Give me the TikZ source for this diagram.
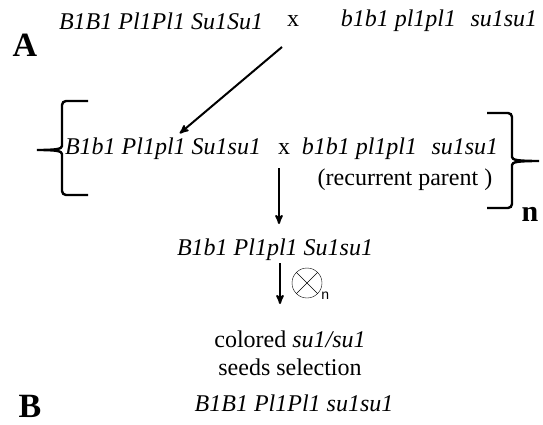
\documentclass[tikz,border=0pt]{standalone}
\usepackage{fontspec}
\setmainfont{Liberation Serif}
\setsansfont{Liberation Sans}
\usetikzlibrary{arrows,positioning}

\begin{document}
\begin{tikzpicture}[x=1pt,y=-1pt,->,>=stealth',thick,
  geno/.style={font=\fontsize{24}{28}\selectfont\itshape,inner sep=0pt},
  plain/.style={font=\fontsize{24}{28}\selectfont,inner sep=0pt},
  panel/.style={font=\fontsize{34}{40}\selectfont\bfseries,inner sep=0pt},
  bracket/.style={-,line width=2.4pt},
  link/.style={line width=2pt,shorten >=1pt}]

  \useasboundingbox (0,0) rectangle (543,425);

  % panel A: first cross
  \node[panel] (A) at (25,45) {A};
  \node[geno] (p1) at (161,21) {B1B1 Pl1Pl1 Su1Su1};
  \node[plain] (x1) at (293,21) {x};
  \node[geno] (p2) at (439,21) {b1b1 pl1pl1\hspace{0.6em}su1su1};

  % backcross line, repeated n times
  \node[geno] (bc1) at (163,149) {B1b1 Pl1pl1 Su1su1};
  \node[plain] (x2) at (284,149) {x};
  \node[geno] (rp) at (400,149) {b1b1 pl1pl1\hspace{0.6em}su1su1};
  \node[plain] (rptext) at (405,180) {(recurrent parent )};
  \node[panel,font=\fontsize{30}{36}\selectfont\bfseries] (n) at (530,214) {n};

  \node[geno] (f1) at (275,250) {B1b1 Pl1pl1 Su1su1};

  % selfing symbol
  \node[circle,draw,thin,minimum size=30pt,inner sep=0pt] (self) at (307,283) {};
  \draw[-,thin] (self.north west) -- (self.south east)
                (self.north east) -- (self.south west);
  \node[font=\sffamily\fontsize{14}{16}\selectfont,inner sep=0pt,anchor=west] (selfn) at (321,296) {n};

  \node[plain,align=center] (sel) at (290,353) {colored \textit{su1/su1}\\seeds selection};
  \node[geno] (end) at (294,403) {B1B1 Pl1Pl1 su1su1};
  \node[panel] (B) at (30,406) {B};

  \coordinate (a1) at (282,47);
  \coordinate (a2) at (179,134);
  \coordinate (b1) at (279,168);
  \coordinate (b2) at (279,225);
  \coordinate (c1) at (280,263);
  \coordinate (c2) at (280,305);

  \draw[link] (a1) -- (a2);
  \draw[link] (b1) -- (b2);
  \draw[link] (c1) -- (c2);

  % the two brackets
  \draw[bracket] (88,101) -- (66,101) to[out=180,in=90] (62,105) -- (62,146)
    .. controls (62,149) and (56,150) .. (37,150)
    .. controls (56,150) and (62,151) .. (62,154) -- (62,191)
    to[out=-90,in=180] (66,195) -- (88,195);
  \draw[bracket] (487,113) -- (508,113) to[out=0,in=90] (512,117) -- (512,157)
    .. controls (512,160) and (518,161) .. (539,161)
    .. controls (518,161) and (512,162) .. (512,165) -- (512,204)
    to[out=-90,in=0] (508,208) -- (487,208);
\end{tikzpicture}
\end{document}
